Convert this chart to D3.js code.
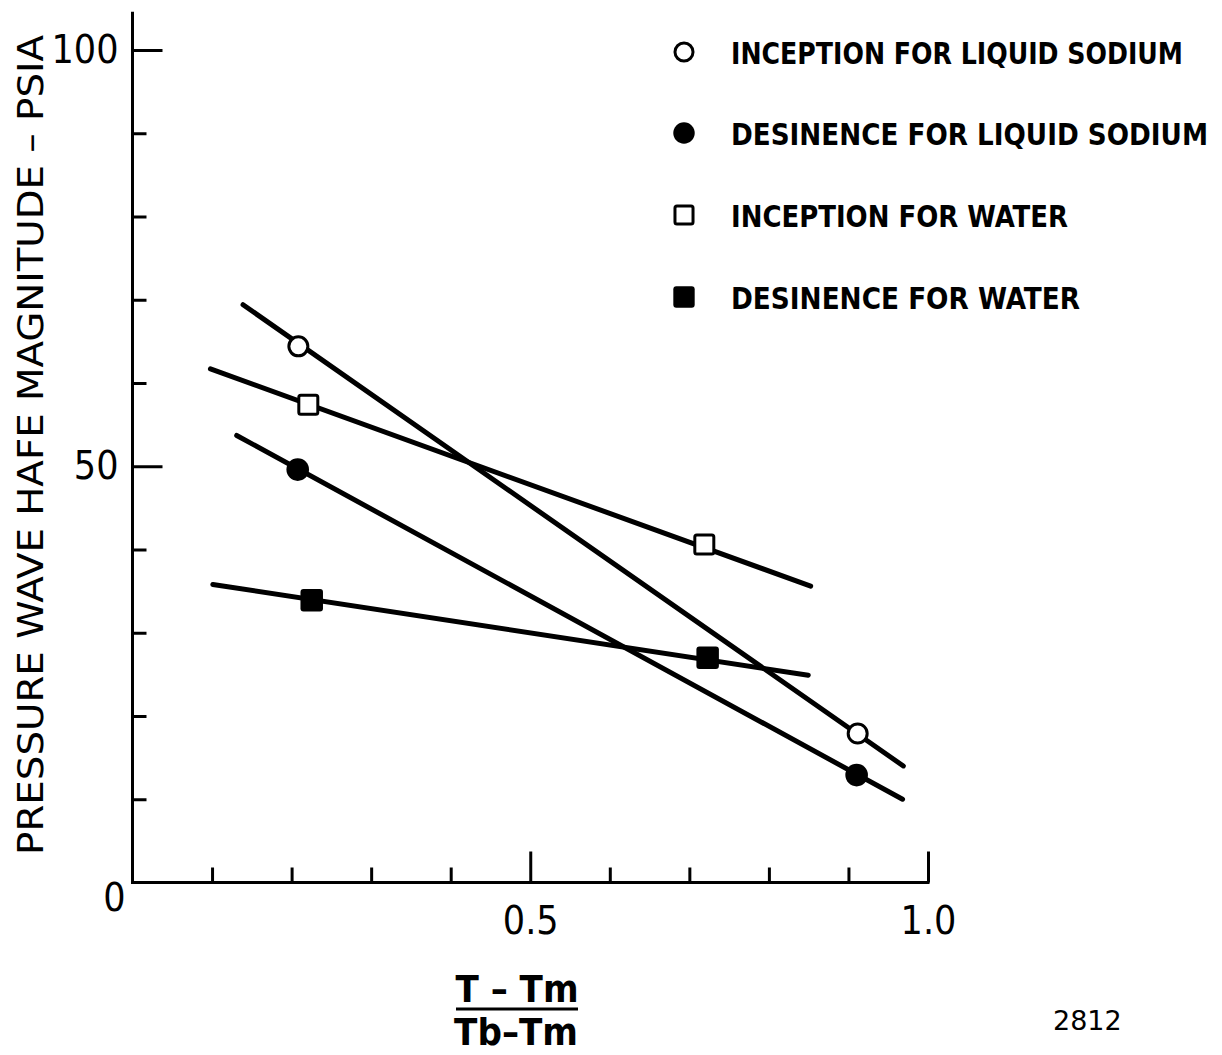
<!DOCTYPE html>
<html lang="en">
<head>
<meta charset="UTF-8">
<title>Pressure wave half magnitude</title>
<script src="https://d3js.org/d3.v7.min.js"></script>
<style>
  body { margin: 0; background: #fff; }
  svg { display: block; }
  text { font-family: "DejaVu Sans", sans-serif; fill: #000; }
  .cond { font-stretch: condensed; }
</style>
</head>
<body>
<svg id="chart" width="1222" height="1055"></svg>
<script>
// axis ticks and labels
const xTicks = [0.1, 0.2, 0.3, 0.4, 0.5, 0.6, 0.7, 0.8, 0.9, 1.0];
const xMajorTicks = [0.5, 1.0];
const xTickLabels = { 0.5: "0.5", 1.0: "1.0" };
const yTicks = [10, 20, 30, 40, 50, 60, 70, 80, 90, 100];
const yMajorTicks = [50, 100];
const yTickLabels = { 0: "0", 50: "50", 100: "100" };
const yAxisTop = 104.6;

// legend / series names
const seriesNames = [
  "INCEPTION FOR LIQUID SODIUM",
  "DESINENCE FOR LIQUID SODIUM",
  "INCEPTION FOR WATER",
  "DESINENCE FOR WATER"
];

// measured points
const inceptionSodiumX = [0.2085, 0.9116];
const inceptionSodiumY = [64.4, 17.9];
const desinenceSodiumX = [0.2077, 0.9103];
const desinenceSodiumY = [49.6, 12.9];
const inceptionWaterX = [0.2210, 0.7188];
const inceptionWaterY = [57.4, 40.6];
const desinenceWaterX = [0.2253, 0.7230];
const desinenceWaterY = [33.9, 27.0];

// hand-drawn fit lines (start and end)
const inceptionSodiumLineX = [0.139, 0.969];
const inceptionSodiumLineY = [69.4, 14.0];
const desinenceSodiumLineX = [0.131, 0.968];
const desinenceSodiumLineY = [53.7, 10.0];
const inceptionWaterLineX = [0.098, 0.8525];
const inceptionWaterLineY = [61.7, 35.6];
const desinenceWaterLineX = [0.101, 0.8495];
const desinenceWaterLineY = [35.8, 24.9];

const series = [
  { xs: inceptionSodiumX, ys: inceptionSodiumY, lx: inceptionSodiumLineX, ly: inceptionSodiumLineY },
  { xs: desinenceSodiumX, ys: desinenceSodiumY, lx: desinenceSodiumLineX, ly: desinenceSodiumLineY },
  { xs: inceptionWaterX, ys: inceptionWaterY, lx: inceptionWaterLineX, ly: inceptionWaterLineY },
  { xs: desinenceWaterX, ys: desinenceWaterY, lx: desinenceWaterLineX, ly: desinenceWaterLineY }
];
const markerKinds = ["openCircle", "filledCircle", "openSquare", "filledSquare"];

const svg = d3.select("#chart");
const x = d3.scaleLinear().domain([0, 1]).range([132.5, 928]);
const y = d3.scaleLinear().domain([0, 100]).range([882.5, 50]);

// axes
const gx = svg.append("g")
  .attr("transform", `translate(0,${y(0)})`)
  .call(d3.axisBottom(x).tickValues(xTicks).tickSizeInner(-15).tickSizeOuter(0)
    .tickPadding(24).tickFormat(d => xTickLabels[d] || ""));
gx.select(".domain").remove();
gx.selectAll(".tick line").attr("stroke", "#000").attr("stroke-width", 3)
  .attr("y2", d => xMajorTicks.includes(d) ? -31 : -15);
gx.selectAll(".tick text").attr("font-size", 39).attr("font-family", "DejaVu Sans").attr("font-stretch", "condensed");

const gy = svg.append("g")
  .attr("transform", `translate(${x(0)},0)`)
  .call(d3.axisLeft(y).tickValues(yTicks).tickSizeInner(-14).tickSizeOuter(0)
    .tickPadding(14).tickFormat(d => yTickLabels[d] || ""));
gy.select(".domain").remove();
gy.selectAll(".tick line").attr("stroke", "#000").attr("stroke-width", 3)
  .attr("x2", d => yMajorTicks.includes(d) ? 30 : 14);
gy.selectAll(".tick text").attr("font-size", 39).attr("font-family", "DejaVu Sans").attr("font-stretch", "condensed");

// axis lines
svg.append("line")
  .attr("x1", x(0)).attr("x2", x(0)).attr("y1", y(0) + 1.5).attr("y2", y(yAxisTop))
  .attr("stroke", "#000").attr("stroke-width", 3);
svg.append("line")
  .attr("x1", x(0)).attr("x2", x(1) + 1.5).attr("y1", y(0)).attr("y2", y(0))
  .attr("stroke", "#000").attr("stroke-width", 3);

// origin label
svg.append("text")
  .attr("x", x(0) - 7).attr("y", y(0) + 28)
  .attr("text-anchor", "end").attr("font-size", 39).attr("class", "cond")
  .text(yTickLabels[0]);

// fit lines
svg.append("g").selectAll("line")
  .data(series).join("line")
  .attr("x1", d => x(d.lx[0])).attr("y1", d => y(d.ly[0]))
  .attr("x2", d => x(d.lx[1])).attr("y2", d => y(d.ly[1]))
  .attr("stroke", "#000").attr("stroke-width", 5).attr("stroke-linecap", "round");

function drawMarker(g, kind, cx, cy, scale) {
  const s = scale || 1;
  if (kind === "openCircle") {
    g.append("circle").attr("cx", cx).attr("cy", cy).attr("r", 9.5 * s)
      .attr("fill", "#fff").attr("stroke", "#000").attr("stroke-width", 3);
  } else if (kind === "filledCircle") {
    g.append("circle").attr("cx", cx).attr("cy", cy).attr("r", 11.3 * s).attr("fill", "#000");
  } else if (kind === "openSquare") {
    const a = 19 * s;
    g.append("rect").attr("x", cx - a / 2).attr("y", cy - a / 2).attr("width", a).attr("height", a)
      .attr("rx", 2).attr("fill", "#fff").attr("stroke", "#000").attr("stroke-width", 3);
  } else {
    const a = 22.5 * s;
    g.append("rect").attr("x", cx - a / 2).attr("y", cy - a / 2).attr("width", a).attr("height", a)
      .attr("rx", 3).attr("fill", "#000");
  }
}

// points
const gp = svg.append("g");
series.forEach((s, i) => {
  s.xs.forEach((v, j) => drawMarker(gp, markerKinds[i], x(v), y(s.ys[j])));
});

// legend
const legendY = [52, 133, 215, 297];
const legendLen = [452, 477, 337, 349];
const gl = svg.append("g");
seriesNames.forEach((name, i) => {
  drawMarker(gl, markerKinds[i], 684, legendY[i], 0.95);
  gl.append("text")
    .attr("x", 731).attr("y", legendY[i] + 12)
    .attr("font-size", 30).attr("font-weight", "bold").attr("class", "cond")
    .attr("textLength", legendLen[i]).attr("lengthAdjust", "spacingAndGlyphs")
    .text(name);
});

// y axis title
svg.append("text")
  .attr("transform", "translate(43,445) rotate(-90)")
  .attr("text-anchor", "middle").attr("font-size", 36).attr("class", "cond")
  .attr("textLength", 820).attr("lengthAdjust", "spacingAndGlyphs")
  .text("PRESSURE  WAVE  HAFE  MAGNITUDE  \u2013 PSIA");

// x axis title as a fraction
svg.append("text")
  .attr("x", 517).attr("y", 1002).attr("text-anchor", "middle")
  .attr("font-size", 38).attr("font-weight", "bold").attr("class", "cond")
  .text("T \u2013 Tm");
svg.append("line")
  .attr("x1", 456).attr("x2", 578).attr("y1", 1009).attr("y2", 1009)
  .attr("stroke", "#000").attr("stroke-width", 3);
svg.append("text")
  .attr("x", 516).attr("y", 1045).attr("text-anchor", "middle")
  .attr("font-size", 38).attr("font-weight", "bold").attr("class", "cond")
  .text("Tb\u2013Tm");

svg.append("text")
  .attr("x", 1053).attr("y", 1030)
  .attr("font-size", 27).attr("font-family", "Liberation Mono")
  .text("2812");
</script>
</body>
</html>
